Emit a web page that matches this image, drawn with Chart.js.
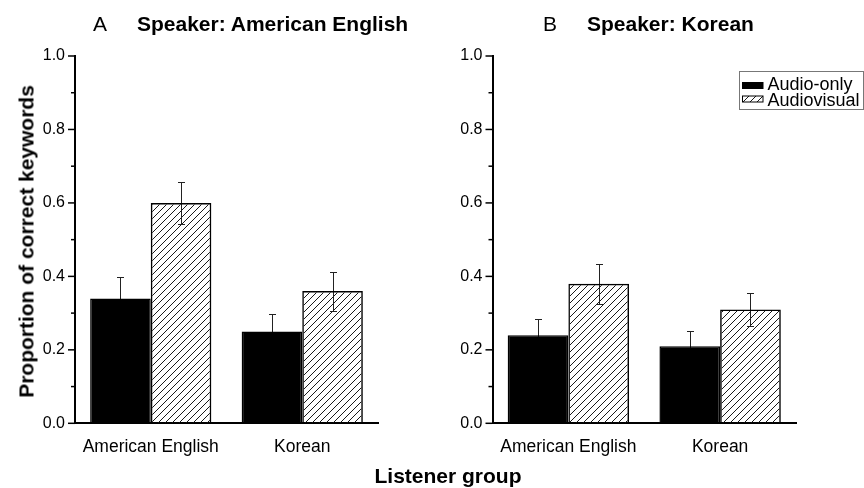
<!DOCTYPE html>
<html>
<head>
<meta charset="utf-8">
<script src="https://cdn.jsdelivr.net/npm/chart.js@4.4.1/dist/chart.umd.min.js"></script>
<style>
  html, body { margin: 0; padding: 0; background: #fff; }
  #wrap { position: relative; width: 864px; height: 488px; overflow: hidden;
          font-family: "Liberation Sans", Arial, sans-serif; color: #000; }
  .pane { position: absolute; top: 0; width: 432px; height: 488px; }
  .txt { position: absolute; white-space: nowrap; font-size: 21px; line-height: 21px; }
  .bold { font-weight: bold; }
</style>
</head>
<body>
<div id="wrap">
  <div class="pane" style="left:0"><canvas id="chartA" width="432" height="488"></canvas></div>
  <div class="pane" style="left:432px"><canvas id="chartB" width="432" height="488"></canvas></div>

  <div class="txt" style="left:93px;top:13px">A</div>
  <div class="txt bold" style="left:137px;top:13px">Speaker: American English</div>
  <div class="txt" style="left:543px;top:13px">B</div>
  <div class="txt bold" style="left:587px;top:13px">Speaker: Korean</div>

  <div class="txt bold" style="left:-174px;top:231px;width:400px;text-align:center;transform:rotate(-90deg);transform-origin:50% 50%;">Proportion of correct keywords</div>
  <div class="txt bold" style="left:248px;top:465px;width:400px;text-align:center;">Listener group</div>
</div>

<script>
// Listener groups on the x axis, shared by both panels
const listenerGroups = ['American English', 'Korean'];
const seriesNames = ['Audio-only', 'Audiovisual'];

// Panel A: speaker is American English (means and error half-widths)
const amAudioOnly = [0.34, 0.25];
const amAudioOnlyErr = [0.057, 0.048];
const amAudiovisual = [0.60, 0.36];
const amAudiovisualErr = [0.057, 0.053];

// Panel B: speaker is Korean
const koAudioOnly = [0.24, 0.21];
const koAudioOnlyErr = [0.043, 0.042];
const koAudiovisual = [0.38, 0.31];
const koAudiovisualErr = [0.055, 0.045];

// y axis: labelled every 0.2, minor marks every 0.1
const yMin = 0, yMax = 1, yStep = 0.1;

const FONT = '"Liberation Sans", Arial, sans-serif';

// Diagonal hatching used for the audiovisual bars
function makeHatch(size) {
  const c = document.createElement('canvas');
  c.width = size; c.height = size;
  const g = c.getContext('2d');
  g.strokeStyle = '#1a1a1a';
  g.lineWidth = 1;
  g.beginPath();
  g.moveTo(0, size); g.lineTo(size, 0);
  g.moveTo(-1, 1); g.lineTo(1, -1);
  g.moveTo(size - 1, size + 1); g.lineTo(size + 1, size - 1);
  g.stroke();
  return g.createPattern(c, 'repeat');
}
const hatch = makeHatch(7);

// Symmetric error bars with small caps; drawn under the bars so that
// solid bars hide the lower half while hatched bars let it show through
const errorBars = {
  id: 'errorBars',
  beforeDatasetsDraw(chart) {
    const ctx = chart.ctx;
    const ys = chart.scales.y;
    ctx.save();
    ctx.strokeStyle = '#222';
    ctx.lineWidth = 1;
    chart.data.datasets.forEach((ds, i) => {
      chart.getDatasetMeta(i).data.forEach((bar, j) => {
        const v = ds.data[j], e = ds.errors[j];
        const x = Math.round(bar.x) + 0.5;
        const yt = Math.round(ys.getPixelForValue(v + e)) + 0.5;
        const yb = Math.round(ys.getPixelForValue(v - e)) + 0.5;
        ctx.beginPath();
        ctx.moveTo(x, yt); ctx.lineTo(x, yb);
        ctx.moveTo(x - 3.5, yt); ctx.lineTo(x + 3.5, yt);
        ctx.moveTo(x - 3.5, yb); ctx.lineTo(x + 3.5, yb);
        ctx.stroke();
      });
    });
    ctx.restore();
  }
};

// Outward tick marks on the y axis: long at labelled values, short in between
const yTickMarks = {
  id: 'yTickMarks',
  afterDraw(chart) {
    const ctx = chart.ctx;
    const ys = chart.scales.y;
    const left = chart.chartArea.left;
    ctx.save();
    ctx.strokeStyle = '#000';
    ctx.lineWidth = 1.5;
    ys.ticks.forEach((t, i) => {
      const y = ys.getPixelForValue(t.value);
      const len = i % 2 === 0 ? 7 : 4;
      ctx.beginPath();
      ctx.moveTo(left - len, y);
      ctx.lineTo(left, y);
      ctx.stroke();
    });
    ctx.restore();
  }
};

// Boxed legend with swatches
const boxLegend = {
  id: 'boxLegend',
  afterDraw(chart, args, o) {
    if (!o.show) return;
    const ctx = chart.ctx;
    ctx.save();
    ctx.strokeStyle = '#777';
    ctx.lineWidth = 1;
    ctx.strokeRect(o.x + 0.5, o.y + 0.5, o.w, o.h);
    ctx.font = '18px ' + FONT;
    ctx.textBaseline = 'alphabetic';
    chart.data.datasets.forEach((ds, i) => {
      const sy = o.y + 11.5 + i * 13.5;
      ctx.fillStyle = ds.backgroundColor;
      ctx.fillRect(o.x + 3.5, sy, 20.5, 6);
      ctx.strokeStyle = '#000';
      ctx.lineWidth = 1;
      ctx.strokeRect(o.x + 3.5, sy, 20.5, 6);
      ctx.fillStyle = '#000';
      ctx.fillText(ds.label, o.x + 28.5, o.y + 18.5 + i * 16);
    });
    ctx.restore();
  }
};

function panelConfig(aoVals, aoErr, avVals, avErr, yWidth, padRight, legend) {
  return {
    type: 'bar',
    data: {
      labels: listenerGroups,
      datasets: [
        { label: seriesNames[0], data: aoVals, errors: aoErr,
          backgroundColor: '#000', borderColor: '#000', borderWidth: 1.5,
          categoryPercentage: 0.8, barPercentage: 1.0 },
        { label: seriesNames[1], data: avVals, errors: avErr,
          backgroundColor: hatch, borderColor: '#000', borderWidth: 1.5,
          categoryPercentage: 0.8, barPercentage: 1.0 }
      ]
    },
    options: {
      responsive: false,
      animation: false,
      devicePixelRatio: 1,
      layout: { padding: { top: 56, left: 0, right: padRight, bottom: 0 } },
      plugins: {
        legend: { display: false },
        tooltip: { enabled: false },
        boxLegend: legend
      },
      scales: {
        x: {
          grid: { display: false, drawTicks: false },
          border: { display: true, color: '#000', width: 2 },
          ticks: { color: '#000', font: { family: FONT, size: 17.5 }, padding: 13,
                   maxRotation: 0, autoSkip: false },
          afterFit: s => { s.height = 64.7; }
        },
        y: {
          min: yMin, max: yMax,
          grid: { display: true, drawOnChartArea: false, drawTicks: false },
          border: { display: true, color: '#000', width: 2 },
          ticks: {
            stepSize: yStep, autoSkip: false, padding: 10, color: '#000',
            font: { family: FONT, size: 16 },
            callback: (v, i) => (i % 2 === 0 ? Number(v).toFixed(1) : '')
          },
          afterFit: s => { s.width = yWidth; }
        }
      }
    },
    plugins: [errorBars, yTickMarks, boxLegend]
  };
}

new Chart(document.getElementById('chartA'),
  panelConfig(amAudioOnly, amAudioOnlyErr, amAudiovisual, amAudiovisualErr, 75, 54, { show: false }));
new Chart(document.getElementById('chartB'),
  panelConfig(koAudioOnly, koAudioOnlyErr, koAudiovisual, koAudiovisualErr, 60.5, 68,
              { show: true, x: 307, y: 71, w: 124, h: 38 }));
</script>
</body>
</html>
